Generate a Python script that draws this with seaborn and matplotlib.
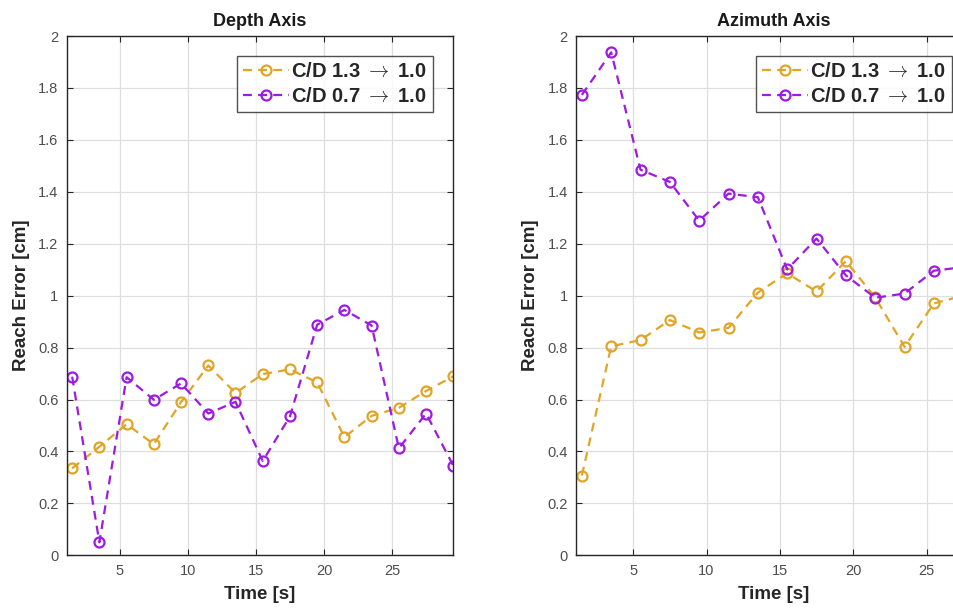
import matplotlib
matplotlib.use("Agg")
import matplotlib.pyplot as plt
import seaborn as sns
import pandas as pd

time_s = [1.5, 3.5, 5.5, 7.5, 9.5, 11.5, 13.5, 15.5, 17.5, 19.5, 21.5, 23.5, 25.5, 27.5, 29.5]

depth_13 = [0.335, 0.418, 0.505, 0.428, 0.590, 0.731, 0.625, 0.698, 0.716, 0.666,
            0.455, 0.537, 0.568, 0.633, 0.689]
depth_07 = [0.688, 0.050, 0.686, 0.599, 0.662, 0.546, 0.591, 0.363, 0.535, 0.888,
            0.945, 0.885, 0.412, 0.546, 0.345]

azim_13 = [0.307, 0.805, 0.829, 0.906, 0.858, 0.876, 1.012, 1.086, 1.016, 1.133,
           0.993, 0.803, 0.970, 1.000, 0.960]
azim_07 = [1.773, 1.937, 1.485, 1.438, 1.289, 1.393, 1.379, 1.101, 1.220, 1.078,
           0.992, 1.008, 1.096, 1.110, 1.080]

series_labels = ["C/D 1.3 $\\rightarrow$ 1.0", "C/D 0.7 $\\rightarrow$ 1.0"]
panel_titles = ["Depth Axis", "Azimuth Axis"]
y_ticks = [0, 0.2, 0.4, 0.6, 0.8, 1, 1.2, 1.4, 1.6, 1.8, 2]
y_tick_labels = ["0", "0.2", "0.4", "0.6", "0.8", "1", "1.2", "1.4", "1.6", "1.8", "2"]
x_ticks = [5, 10, 15, 20, 25]

sns.set_theme(style="white")
plt.rcParams["font.family"] = ["Liberation Sans", "DejaVu Sans"]
plt.rcParams["mathtext.fontset"] = "cm"

colors = ["#E0A526", "#9D1AE3"]
edge = "#262626"
tick_col = "#4D4D4D"
dash = (4.0, 2.8)

fig = plt.figure(figsize=(9.54, 6.12), dpi=100)
ax1 = fig.add_axes([66.7 / 954, 1 - 555.3 / 612, 386.6 / 954, 519.3 / 612])
ax2 = fig.add_axes([576 / 954, 1 - 555.3 / 612, 396 / 954, 519.3 / 612])

panels = [(ax1, depth_13, depth_07, (1.1, 29.5)),
          (ax2, azim_13, azim_07, (1.1, 28.1))]

for i, (ax, s13, s07, xl) in enumerate(panels):
    df = pd.DataFrame({
        "t": time_s * 2,
        "v": s13 + s07,
        "cond": [series_labels[0]] * len(time_s) + [series_labels[1]] * len(time_s),
    })
    for j, lab in enumerate(series_labels):
        sub = df[df["cond"] == lab]
        sns.lineplot(data=sub, x="t", y="v", ax=ax, color=colors[j], label=lab,
                     linewidth=1.6, dashes=False, marker="o", markersize=7.2,
                     markerfacecolor="none", markeredgecolor=colors[j],
                     markeredgewidth=1.6, estimator=None, sort=False, clip_on=True)
        ax.lines[-1].set_dashes(dash)
    ax.set_xlim(*xl)
    ax.set_ylim(0, 2)
    ax.set_yticks(y_ticks)
    ax.set_yticklabels(y_tick_labels)
    ax.set_xticks(x_ticks)
    ax.grid(True, color="#DEDEDE", linewidth=0.9)
    ax.set_axisbelow(True)
    for sp in ax.spines.values():
        sp.set_color(edge)
        sp.set_linewidth(1.0)
    ax.tick_params(direction="in", length=4, width=0.8, color=edge,
                   labelcolor=tick_col, labelsize=10.5, top=True, right=True,
                   bottom=True, left=True, pad=6)
    ax.set_xlabel("Time [s]", fontsize=13.5, fontweight="bold", color="#262626", labelpad=6)
    ax.set_ylabel("Reach Error [cm]", fontsize=13.5, fontweight="bold", color="#262626", labelpad=6)
    ax.set_title(panel_titles[i], fontsize=13, fontweight="bold", color="#1A1A1A", pad=7)
    leg = ax.legend(loc="upper right", fontsize=14.5, frameon=True, fancybox=False,
                    handlelength=2.3, handletextpad=0.1, borderpad=0.3,
                    labelspacing=0.3, borderaxespad=1.0)
    leg.get_frame().set_edgecolor(edge)
    leg.get_frame().set_linewidth(1.0)
    for t in leg.get_texts():
        t.set_fontweight("bold")
    for h in leg.get_lines():
        h.set_dashes(dash)

fig.savefig("out.png", dpi=100)
